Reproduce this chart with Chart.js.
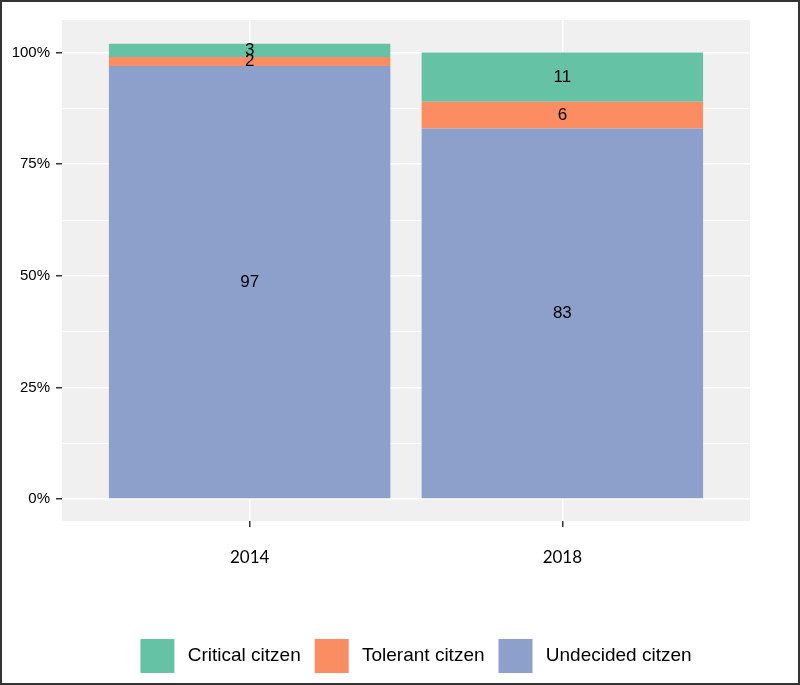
<!DOCTYPE html>
<html>
<head>
<meta charset="utf-8">
<script src="https://cdn.jsdelivr.net/npm/chart.js@4"></script>
<style>
  html, body { margin: 0; padding: 0; background: #fff; }
  #wrap { position: relative; width: 800px; height: 685px; box-sizing: border-box; border: 2px solid #333; }
</style>
</head>
<body>
<div id="wrap"><canvas id="myChart"></canvas></div>
<script>
// data
const years = ['2014', '2018'];
const undecided = [97, 83];
const tolerant = [2, 6];
const critical = [3, 11];
const yTicks = [0, 25, 50, 75, 100];

// grey ggplot panel behind the bars
const panelBg = {
  id: 'panelBg',
  beforeDraw(chart) {
    const { ctx, chartArea: a } = chart;
    ctx.save();
    ctx.fillStyle = '#F0F0F0';
    ctx.fillRect(a.left, a.top, a.right - a.left, a.bottom - a.top);
    ctx.restore();
  }
};

// the legend sits a bit right of the canvas centre in the original
const legendShift = {
  id: 'legendShift',
  afterLayout(chart) {
    if (chart.legend) {
      chart.legend.left += 40;
      chart.legend.right += 40;
    }
  }
};

// value in the middle of each segment
const segLabels = {
  id: 'segLabels',
  afterDatasetsDraw(chart) {
    const ctx = chart.ctx;
    ctx.save();
    ctx.font = '17px "Liberation Sans", Arial, sans-serif';
    ctx.fillStyle = '#000';
    ctx.textAlign = 'center';
    ctx.textBaseline = 'middle';
    chart.data.datasets.forEach((ds, i) => {
      chart.getDatasetMeta(i).data.forEach((bar, j) => {
        ctx.fillText(ds.data[j].y, bar.x, (bar.y + bar.base) / 2);
      });
    });
    ctx.restore();
  }
};

const pts = arr => arr.map((v, i) => ({ x: i + 1, y: v }));

const config = {
  type: 'bar',
  data: {
    datasets: [
      { label: 'Undecided citzen', data: pts(undecided), backgroundColor: '#8DA0CB' },
      { label: 'Tolerant citzen', data: pts(tolerant), backgroundColor: '#FC8D62' },
      { label: 'Critical citzen', data: pts(critical), backgroundColor: '#66C2A5' }
    ]
  },
  options: {
    responsive: true,
    maintainAspectRatio: false,
    animation: false,
    barPercentage: 0.9,
    categoryPercentage: 1,
    layout: { padding: { top: 18, right: 48, left: 0, bottom: 0 } },
    scales: {
      x: {
        type: 'linear',
        stacked: true,
        offset: false,
        min: 0.4,
        max: 2.6,
        afterBuildTicks: s => { s.ticks = years.map((y, i) => ({ value: i + 1 })); },
        afterFit: s => { s.height = 104; },
        border: { display: false },
        grid: { offset: false, color: '#fff', lineWidth: 1.5, tickColor: '#333', tickLength: 6 },
        ticks: {
          callback: v => years[v - 1],
          color: '#000',
          padding: 20,
          font: { family: 'Lato, "Open Sans", sans-serif', size: 17 }
        }
      },
      y: {
        stacked: true,
        min: -4.9,
        max: 107.3,
        afterBuildTicks: s => { s.ticks = [12.5, 37.5, 62.5, 87.5].concat(yTicks).map(v => ({ value: v })); },
        afterFit: s => { s.width = 60; },
        border: { display: false },
        grid: {
          color: '#fff',
          lineWidth: c => (c.tick && c.tick.value % 25 === 0 ? 1.5 : 0.7),
          tickColor: c => (c.tick && c.tick.value % 25 === 0 ? '#333' : 'rgba(0,0,0,0)'),
          tickLength: 6
        },
        ticks: {
          callback: v => (v % 25 === 0 ? v + '%' : ''),
          color: '#000',
          padding: 6,
          font: { family: '"Liberation Sans", Arial, sans-serif', size: 15 }
        }
      }
    },
    plugins: {
      legend: {
        position: 'bottom',
        reverse: true,
        labels: {
          boxWidth: 34,
          boxHeight: 34,
          padding: 14,
          color: '#000',
          font: { family: '"Liberation Sans", Arial, sans-serif', size: 19 },
          // a thin space widens the gap between key and text a little
          generateLabels: chart => Chart.defaults.plugins.legend.labels.generateLabels(chart)
            .map(l => Object.assign(l, { text: '\u2009' + l.text }))
        }
      },
      tooltip: { enabled: false }
    }
  },
  plugins: [panelBg, legendShift, segLabels]
};

const myChart = new Chart(document.getElementById('myChart'), config);
</script>
</body>
</html>
